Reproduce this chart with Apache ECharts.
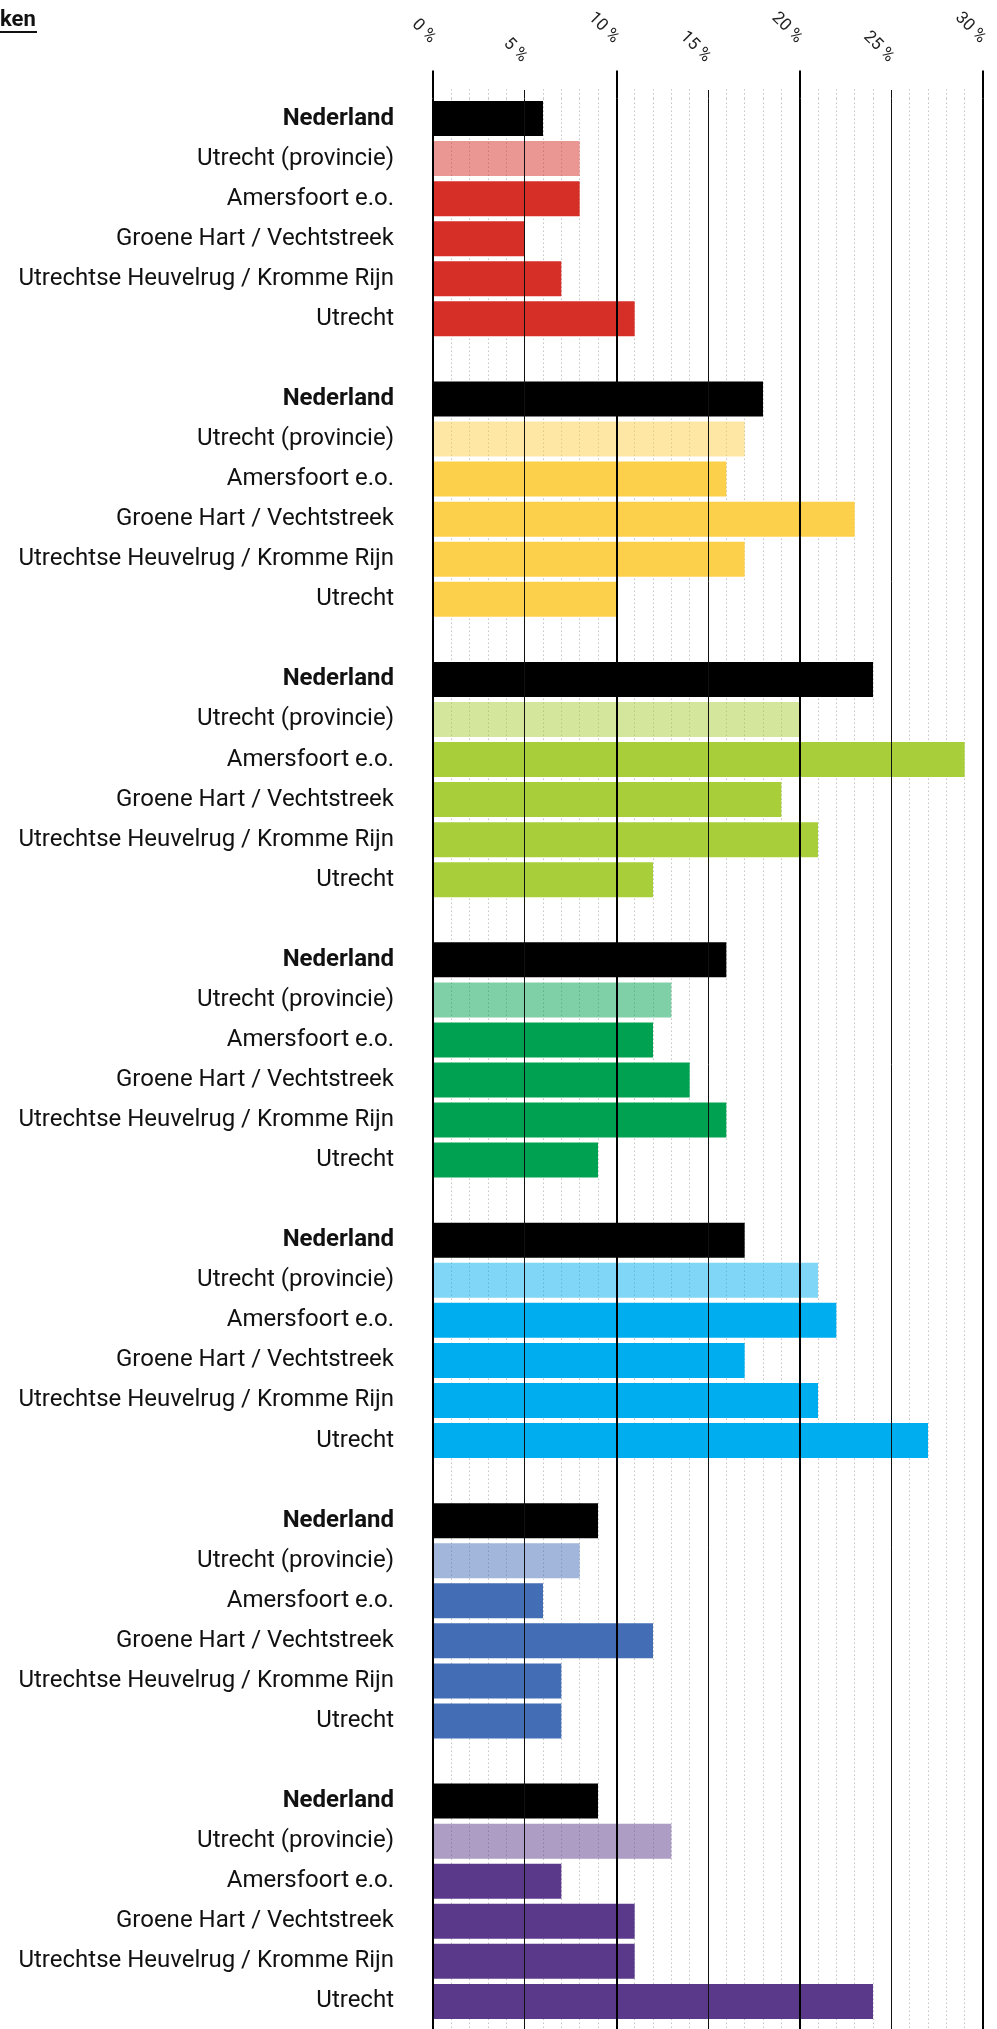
<!DOCTYPE html>
<html><head><meta charset="utf-8">
<script src="https://cdn.jsdelivr.net/npm/echarts@6/dist/echarts.min.js"></script>
<style>html,body{margin:0;padding:0;background:#fff}#c{width:997px;height:2029px}</style>
</head><body><div id="c"></div>
<script>
// ---- data ----
const regions = ['Nederland', 'Utrecht (provincie)', 'Amersfoort e.o.', 'Groene Hart / Vechtstreek', 'Utrechtse Heuvelrug / Kromme Rijn', 'Utrecht'];
const group1 = [6, 8, 8, 5, 7, 11];
const group2 = [18, 17, 16, 23, 17, 10];
const group3 = [24, 20, 29, 19, 21, 12];
const group4 = [16, 13, 12, 14, 16, 9];
const group5 = [17, 21, 22, 17, 21, 27];
const group6 = [9, 8, 6, 12, 7, 7];
const group7 = [9, 13, 7, 11, 11, 24];
const xTickValues = [0, 5, 10, 15, 20, 25, 30];
const titleText = 'ken';

// ---- style ----
const groupColors = ['#D52F27', '#FDD04B', '#A8CE3A', '#00A150', '#00AEEF', '#436EB5', '#5B398A'];
const groups = [group1, group2, group3, group4, group5, group6, group7];

const catKeys = [], catLabels = [], barData = [];
groups.forEach((g, gi) => {
  regions.forEach((r, ri) => {
    catKeys.push('c' + catKeys.length);
    catLabels.push(ri === 0 ? '{b|' + r + '}' : '{n|' + r + '}');
    barData.push({
      value: g[ri],
      itemStyle: { color: ri === 0 ? '#000000' : groupColors[gi], opacity: ri === 1 ? 0.5 : 1 }
    });
  });
  catKeys.push('c' + catKeys.length);
  catLabels.push('');
  barData.push('-');
});

const lblFont = { fontFamily: 'Roboto', fontSize: 24, color: '#111' };
const tickFont = { fontFamily: 'Roboto', fontSize: 17, color: '#222' };
const fmtTick = v => v + ' %';

const chart = echarts.init(document.getElementById('c'), null, { renderer: 'canvas' });
chart.setOption({
  animation: false,
  backgroundColor: '#ffffff',
  grid: { left: 433, width: 550, top: 98.5, height: 1963, containLabel: false, outerBoundsMode: 'none' },
  graphic: [
    { type: 'text', left: 0, top: 9, style: { text: titleText, font: 'bold 22px Roboto', fill: '#111' } },
    { type: 'line', shape: { x1: 0, y1: 32, x2: 37, y2: 32 }, style: { stroke: '#111', lineWidth: 2 } }
  ],
  xAxis: [
    {
      type: 'value', position: 'top', min: 0, max: 30, interval: 10, z: 5,
      axisLine: { show: false },
      axisTick: { show: true, inside: false, length: 28, lineStyle: { color: '#000', width: 2 } },
      axisLabel: Object.assign({ rotate: 45, margin: 58, hideOverlap: false, formatter: v => xTickValues.indexOf(v) >= 0 && v % 10 === 0 ? fmtTick(v) : '' }, tickFont),
      splitLine: { show: true, lineStyle: { color: '#000', width: 2 } }
    },
    {
      type: 'value', position: 'top', min: 0, max: 30, interval: 5, z: 4,
      axisLine: { show: false },
      axisTick: { show: true, inside: false, length: 8.5, lineStyle: { color: '#111', width: 1 } },
      axisLabel: Object.assign({ rotate: 45, margin: 39, hideOverlap: false, formatter: v => xTickValues.indexOf(v) >= 0 && v % 10 === 5 ? fmtTick(v) : '' }, tickFont),
      splitLine: { show: true, lineStyle: { color: '#111', width: 1 } }
    },
    {
      type: 'value', position: 'top', min: 0, max: 30, interval: 5, z: 0,
      axisLine: { show: false },
      axisTick: { show: false },
      axisLabel: { show: false },
      splitLine: { show: false },
      minorTick: { show: true, splitNumber: 5, length: 10.5, lineStyle: { color: '#c4c4c4', width: 1, type: [1.5, 2.5] } },
      minorSplitLine: { show: true, lineStyle: { color: '#c4c4c4', width: 1, type: [1.5, 2.5] } }
    }
  ],
  yAxis: {
    type: 'category', inverse: true, data: catKeys,
    axisLine: { show: false }, axisTick: { show: false }, splitLine: { show: false },
    axisLabel: {
      interval: 0, margin: 39, align: 'right',
      formatter: (v, i) => catLabels[i],
      rich: {
        b: Object.assign({ fontWeight: 'bold' }, lblFont),
        n: Object.assign({ fontWeight: 'normal' }, lblFont)
      }
    }
  },
  series: [{
    type: 'bar', xAxisIndex: 0, yAxisIndex: 0, barWidth: 35, z: 2,
    data: barData
  }]
});
</script>
</body></html>
